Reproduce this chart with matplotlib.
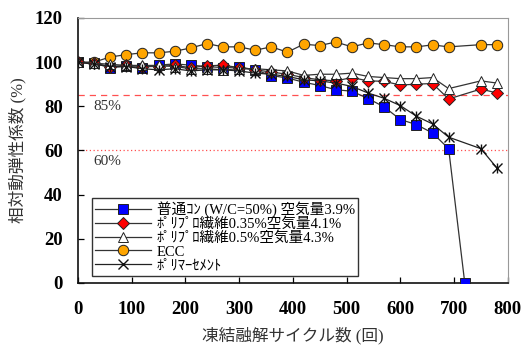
import matplotlib
matplotlib.use("Agg")
import matplotlib.pyplot as plt

cycles = [0, 30, 60, 90, 120, 150, 180, 210, 240, 270, 300, 330, 360, 390,
          420, 450, 480, 510, 540, 570, 600, 630, 660, 690]
cycles_full = cycles + [750, 780]

normal_x = cycles + [720]
normal_y = [100, 99.5, 97.5, 98.1, 97.5, 98.6, 99.2, 98.6, 98.0, 97.5, 97.8, 96.5,
            93.9, 92.8, 90.9, 89.4, 87.5, 86.8, 83.5, 79.7, 74.0, 71.7, 67.9, 60.8, 0]
pp035_y = [100, 99.5, 98.0, 98.5, 98.0, 98.0, 98.5, 97.5, 98.3, 98.6, 97.5, 96.5,
           95.5, 94.5, 93.0, 92.0, 91.5, 93.0, 91.5, 91.3, 89.6, 90.0, 90.3, 83.3, 87.8, 86.0]
pp05_y = [100, 99.5, 99.0, 98.5, 98.5, 98.5, 98.0, 97.0, 97.0, 96.5, 97.0, 97.0,
          96.5, 96.0, 94.0, 94.5, 94.5, 95.0, 93.5, 93.0, 92.5, 92.5, 93.0, 88.0, 91.5, 90.5]
ecc_y = [100, 100, 102.3, 103.4, 104.2, 104.2, 104.9, 106.4, 108.4, 106.9, 106.9, 105.4,
         106.9, 104.5, 108.1, 107.5, 109.1, 106.9, 108.7, 107.9, 106.9, 106.9, 107.8, 106.9,
         107.9, 107.9]
polymer_y = [100, 99.0, 98.0, 98.0, 97.0, 96.5, 97.0, 96.0, 96.5, 96.5, 96.0, 95.0,
             94.5, 93.5, 92.0, 91.5, 90.5, 89.0, 86.0, 83.6, 80.3, 75.5, 72.0, 66.0, 60.8, 52.0]

labels = ["普通ｺﾝ (W/C=50%) 空気量3.9%", "ﾎﾟﾘﾌﾟﾛ繊維0.35%空気量4.1%",
          "ﾎﾟﾘﾌﾟﾛ繊維0.5%空気量4.3%", "ECC", "ﾎﾟﾘﾏｰｾﾒﾝﾄ"]
thresholds = [85, 60]

fam = ['Liberation Serif', 'Noto Sans CJK JP']
plt.rcParams['font.family'] = fam

fig = plt.figure(figsize=(5.3, 3.45), dpi=100)
ax = fig.add_axes([0.147, 0.18, 0.811, 0.768])

ax.axhline(thresholds[0], color='#ff5050', lw=0.9, ls=(0, (5, 4)), zorder=1)
ax.axhline(thresholds[1], color='#ff5050', lw=0.9, ls=(0, (1, 2)), zorder=1)
ax.text(28, thresholds[0] - 2.0, "85%", fontsize=11, va='top', ha='left', color='#333333')
ax.text(28, thresholds[1] - 2.0, "60%", fontsize=11, va='top', ha='left', color='#333333')

ms = 7
kw = dict(color='#333333', lw=0.9, markeredgecolor='#222222', markeredgewidth=0.7)
ax.plot(normal_x, normal_y, marker='s', ms=ms, markerfacecolor='#0000ff', label=labels[0], zorder=3, **kw)
ax.plot(cycles_full, pp035_y, marker='D', ms=ms - 1, markerfacecolor='#ff0000', label=labels[1], zorder=4, **kw)
ax.plot(cycles_full, pp05_y, marker='^', ms=ms + 0.5, markerfacecolor='white', label=labels[2], zorder=5, **kw)
ax.plot(cycles_full, ecc_y, marker='o', ms=ms + 0.5, markerfacecolor='#ffa500', label=labels[3], zorder=3, **kw)
ax.plot(cycles_full, polymer_y, marker='x', ms=ms, markerfacecolor='none', label=labels[4], zorder=6,
        color='#222222', lw=0.9, markeredgecolor='#111111', markeredgewidth=1.0)
ax.plot(cycles_full, polymer_y, marker='|', ms=ms, ls='none', color='#111111', markeredgewidth=1.0, zorder=6)

ax.set_xlim(0, 800)
ax.set_ylim(0, 120)
ax.set_xticks(range(0, 801, 100))
ax.set_yticks(range(0, 121, 20))
ax.tick_params(direction='in', length=4, width=0.9, labelsize=13.5)
ax.tick_params(axis='x', pad=13)
ax.tick_params(axis='y', pad=11)
for lab in ax.get_xticklabels() + ax.get_yticklabels():
    lab.set_fontweight('bold')

for s in ['left', 'bottom']:
    ax.spines[s].set_linewidth(1.2)
    ax.spines[s].set_color('#111111')
for s in ['top', 'right']:
    ax.spines[s].set_linewidth(0.8)
    ax.spines[s].set_color('#999999')

ax.set_xlabel("凍結融解サイクル数 (回)", fontsize=12, labelpad=6, color='#333333')
ax.set_ylabel("相対動弾性係数 (%)", fontsize=12, labelpad=6, color='#333333')

leg = ax.legend(loc='lower left', bbox_to_anchor=(0.032, 0.027), fontsize=10.5, frameon=True,
                fancybox=False, edgecolor='#333333', framealpha=1, borderpad=0.25,
                labelspacing=0.02, handlelength=3.8, handletextpad=0.4, borderaxespad=0)
leg.get_frame().set_linewidth(1.0)

fig.savefig("out.png", dpi=100)
